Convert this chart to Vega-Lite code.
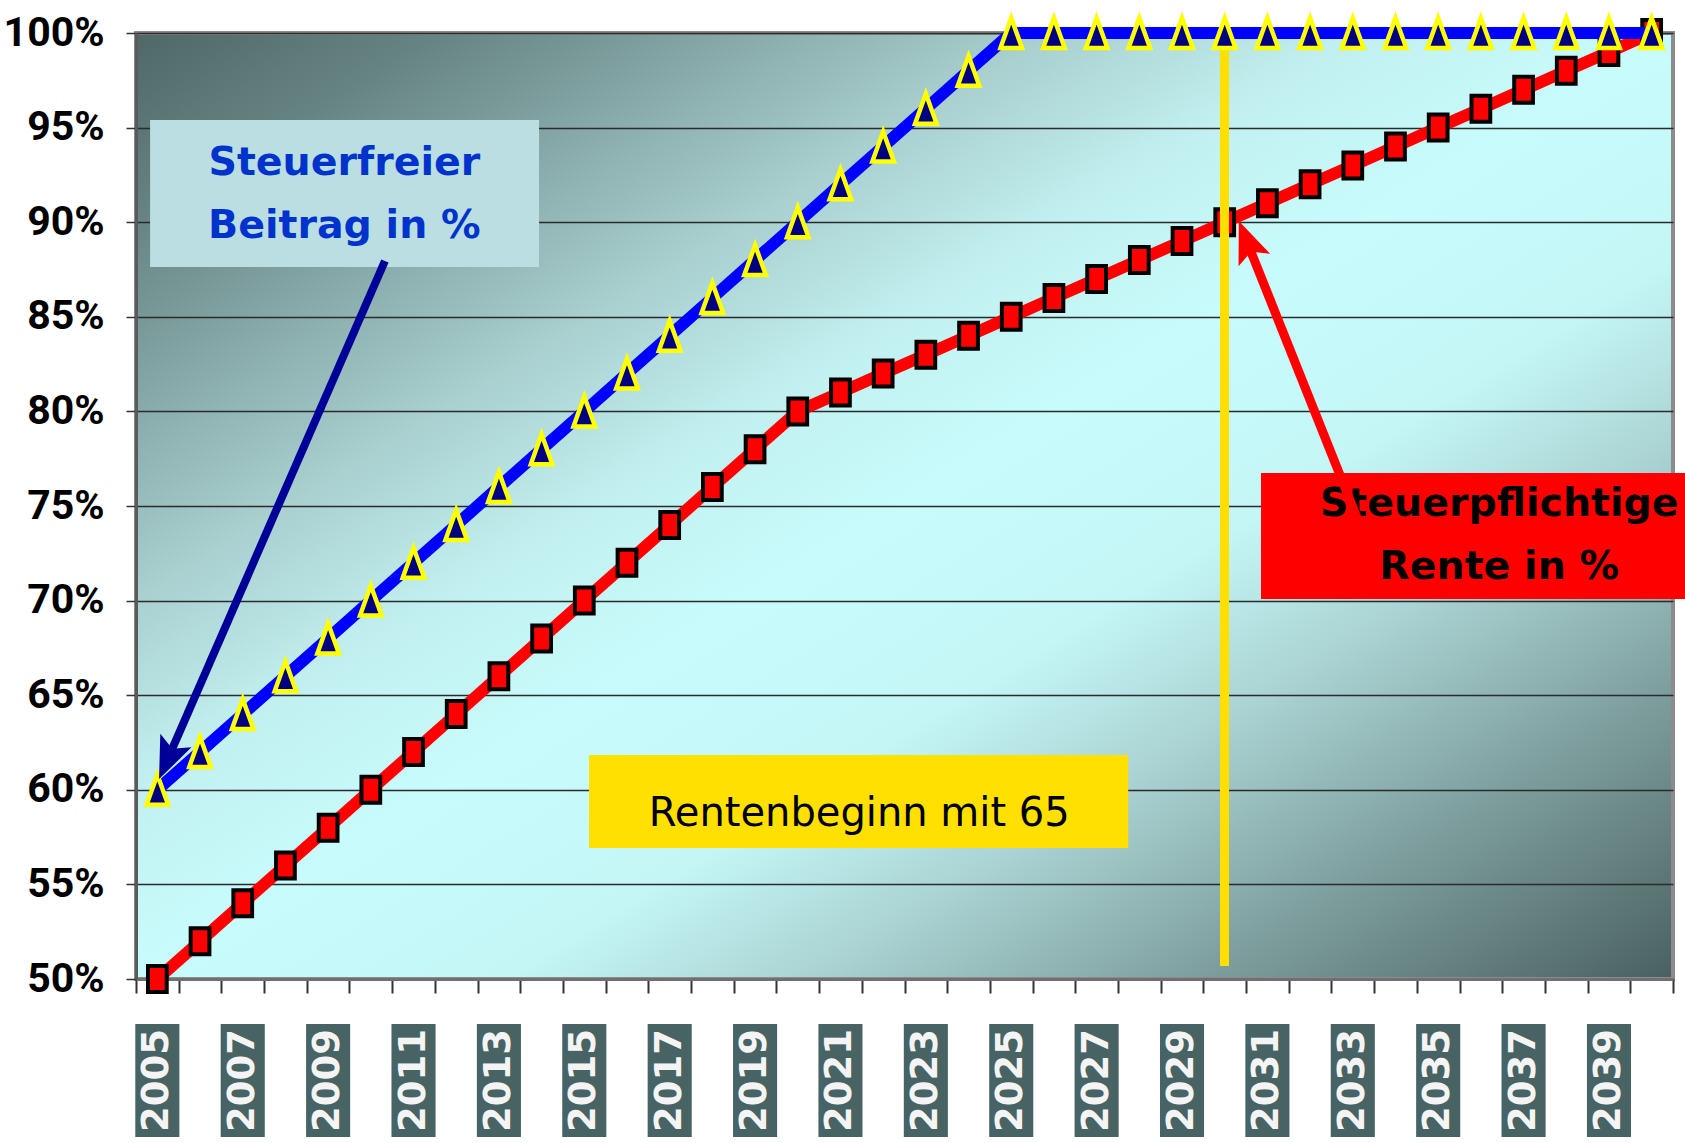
{
  "$schema": "https://vega.github.io/schema/vega-lite/v6.json",
  "padding": {"left": 1, "top": 7, "right": 0, "bottom": 0},
  "spacing": 19,
  "background": "#ffffff",
  "datasets": {
    "rente": [
      {"year": 2005, "frei": 60, "pflicht": 50},
      {"year": 2006, "frei": 62, "pflicht": 52},
      {"year": 2007, "frei": 64, "pflicht": 54},
      {"year": 2008, "frei": 66, "pflicht": 56},
      {"year": 2009, "frei": 68, "pflicht": 58},
      {"year": 2010, "frei": 70, "pflicht": 60},
      {"year": 2011, "frei": 72, "pflicht": 62},
      {"year": 2012, "frei": 74, "pflicht": 64},
      {"year": 2013, "frei": 76, "pflicht": 66},
      {"year": 2014, "frei": 78, "pflicht": 68},
      {"year": 2015, "frei": 80, "pflicht": 70},
      {"year": 2016, "frei": 82, "pflicht": 72},
      {"year": 2017, "frei": 84, "pflicht": 74},
      {"year": 2018, "frei": 86, "pflicht": 76},
      {"year": 2019, "frei": 88, "pflicht": 78},
      {"year": 2020, "frei": 90, "pflicht": 80},
      {"year": 2021, "frei": 92, "pflicht": 81},
      {"year": 2022, "frei": 94, "pflicht": 82},
      {"year": 2023, "frei": 96, "pflicht": 83},
      {"year": 2024, "frei": 98, "pflicht": 84},
      {"year": 2025, "frei": 100, "pflicht": 85},
      {"year": 2026, "frei": 100, "pflicht": 86},
      {"year": 2027, "frei": 100, "pflicht": 87},
      {"year": 2028, "frei": 100, "pflicht": 88},
      {"year": 2029, "frei": 100, "pflicht": 89},
      {"year": 2030, "frei": 100, "pflicht": 90},
      {"year": 2031, "frei": 100, "pflicht": 91},
      {"year": 2032, "frei": 100, "pflicht": 92},
      {"year": 2033, "frei": 100, "pflicht": 93},
      {"year": 2034, "frei": 100, "pflicht": 94},
      {"year": 2035, "frei": 100, "pflicht": 95},
      {"year": 2036, "frei": 100, "pflicht": 96},
      {"year": 2037, "frei": 100, "pflicht": 97},
      {"year": 2038, "frei": 100, "pflicht": 98},
      {"year": 2039, "frei": 100, "pflicht": 99},
      {"year": 2040, "frei": 100, "pflicht": 100}
    ]
  },
  "vconcat": [
    {
      "width": 1537,
      "height": 946,
      "view": {
        "fill": {
          "gradient": "linear", "x1": 0, "y1": 0, "x2": 1, "y2": 1,
          "stops": [
            {"offset": 0, "color": "#4f6767"},
            {"offset": 0.1, "color": "#668483"},
            {"offset": 0.2, "color": "#88aaaa"},
            {"offset": 0.3, "color": "#aad0d0"},
            {"offset": 0.4, "color": "#c2f0f0"},
            {"offset": 0.5, "color": "#c8fcfc"},
            {"offset": 0.62, "color": "#c4f6f6"},
            {"offset": 0.72, "color": "#aad2d2"},
            {"offset": 0.85, "color": "#7c9c9c"},
            {"offset": 1, "color": "#4a6060"}
          ]
        },
        "stroke": "#8c8c8c",
        "strokeWidth": 4
      },
      "data": {"name": "rente"},
      "layer": [
        {
          "mark": {"type": "line", "color": "#ff0000", "strokeWidth": 12},
          "encoding": {
            "x": {
              "field": "year", "type": "quantitative", "title": null,
              "scale": {"domain": [2004.5, 2040.5], "nice": false, "zero": false},
              "axis": {
                "values": [2004.5, 2005.5, 2006.5, 2007.5, 2008.5, 2009.5, 2010.5, 2011.5, 2012.5, 2013.5, 2014.5, 2015.5, 2016.5, 2017.5, 2018.5, 2019.5, 2020.5, 2021.5, 2022.5, 2023.5, 2024.5, 2025.5, 2026.5, 2027.5, 2028.5, 2029.5, 2030.5, 2031.5, 2032.5, 2033.5, 2034.5, 2035.5, 2036.5, 2037.5, 2038.5, 2039.5, 2040.5],
                "labels": false, "grid": false, "tickSize": 14, "tickColor": "#333333", "tickWidth": 2,
                "domainColor": "#707070", "domainWidth": 3, "title": null
              }
            },
            "y": {
              "field": "pflicht", "type": "quantitative", "title": null,
              "scale": {"domain": [50, 100], "nice": false, "zero": false},
              "axis": {
                "values": [50, 55, 60, 65, 70, 75, 80, 85, 90, 95, 100],
                "labelExpr": "datum.value + '%'",
                "grid": true, "gridColor": "#2b2b2b", "gridWidth": 1.3,
                "domainColor": "#5a5a5a", "domainWidth": 3,
                "tickColor": "#333333", "tickWidth": 1.5, "tickSize": 10,
                "labelFont": "Roboto",
                "labelFontWeight": "bold", "labelFontSize": 41, "labelColor": "#000000",
                "labelPadding": 22, "title": null
              }
            }
          }
        },
        {
          "mark": {"type": "point", "shape": "M-0.72,-1H0.72V1H-0.72Z", "size": 676, "filled": true, "fill": "#ff0000", "stroke": "#000000", "strokeWidth": 4, "opacity": 1},
          "encoding": {
            "x": {"field": "year", "type": "quantitative", "title": null},
            "y": {"field": "pflicht", "type": "quantitative", "title": null}
          }
        },
        {
          "mark": {"type": "rule", "color": "#ffdf00", "strokeWidth": 8},
          "encoding": {
            "x": {"datum": 2030, "type": "quantitative", "title": null},
            "y": {"datum": 99.2, "type": "quantitative", "title": null},
            "y2": {"datum": 50.7}
          }
        },
        {
          "mark": {"type": "line", "color": "#0000ff", "strokeWidth": 12},
          "encoding": {
            "x": {"field": "year", "type": "quantitative", "title": null},
            "y": {"field": "frei", "type": "quantitative", "title": null}
          }
        },
        {
          "mark": {"type": "point", "shape": "M0,-1L0.72,1L-0.72,1Z", "size": 900, "filled": true, "fill": "#000080", "stroke": "#ffff00", "strokeWidth": 4.5, "opacity": 1},
          "encoding": {
            "x": {"field": "year", "type": "quantitative", "title": null},
            "y": {"field": "frei", "type": "quantitative", "title": null}
          }
        },
        {
          "data": {"values": [{}]},
          "mark": {"type": "rect", "fill": "#bbdee3"},
          "encoding": {
            "x": {"datum": 2004.83, "type": "quantitative", "title": null},
            "x2": {"datum": 2013.94},
            "y": {"datum": 95.4, "type": "quantitative", "title": null},
            "y2": {"datum": 87.63}
          }
        },
        {
          "data": {"values": [{}]},
          "mark": {"type": "text", "align": "center", "baseline": "alphabetic", "font": "DejaVu Sans", "fontWeight": "bold", "fontSize": 39.5, "lineHeight": 63, "fill": "#0033cc"},
          "encoding": {
            "x": {"datum": 2009.38, "type": "quantitative", "title": null},
            "y": {"datum": 92.49, "type": "quantitative", "title": null},
            "text": {"value": ["Steuerfreier", "Beitrag in %"]}
          }
        },
        {
          "data": {"values": [{}]},
          "mark": {"type": "rule", "color": "#000099", "strokeWidth": 8},
          "encoding": {
            "x": {"datum": 2010.33, "type": "quantitative", "title": null},
            "y": {"datum": 87.95, "type": "quantitative", "title": null},
            "x2": {"datum": 2005.32},
            "y2": {"datum": 62.02}
          }
        },
        {
          "data": {"values": [{}]},
          "mark": {"type": "point", "shape": "M0,0L1.7,4.2L0,3.3L-1.7,4.2Z", "size": 400, "filled": true, "fill": "#000099", "strokeWidth": 0, "opacity": 1, "angle": 203.6},
          "encoding": {
            "x": {"datum": 2005.04, "type": "quantitative", "title": null},
            "y": {"datum": 60.57, "type": "quantitative", "title": null}
          }
        },
        {
          "data": {"values": [{}]},
          "mark": {"type": "rect", "fill": "#ff0000"},
          "encoding": {
            "x": {"datum": 2030.85, "type": "quantitative", "title": null},
            "x2": {"datum": 2040.85},
            "y": {"datum": 76.74, "type": "quantitative", "title": null},
            "y2": {"datum": 70.08}
          }
        },
        {
          "data": {"values": [{}]},
          "mark": {"type": "text", "align": "center", "baseline": "alphabetic", "font": "DejaVu Sans", "fontWeight": "bold", "fontSize": 39.5, "lineHeight": 63, "fill": "#000000"},
          "encoding": {
            "x": {"datum": 2036.43, "type": "quantitative", "title": null},
            "y": {"datum": 74.47, "type": "quantitative", "title": null},
            "text": {"value": ["Steuerpflichtige", "Rente in %"]}
          }
        },
        {
          "data": {"values": [{}]},
          "mark": {"type": "rule", "color": "#ff0000", "strokeWidth": 9},
          "encoding": {
            "x": {"datum": 2033.1, "type": "quantitative", "title": null},
            "y": {"datum": 74.37, "type": "quantitative", "title": null},
            "x2": {"datum": 2030.59},
            "y2": {"datum": 88.58}
          }
        },
        {
          "data": {"values": [{}]},
          "mark": {"type": "point", "shape": "M0,0L1.7,4.2L0,3.3L-1.7,4.2Z", "size": 400, "filled": true, "fill": "#ff0000", "strokeWidth": 0, "opacity": 1, "angle": 338.3},
          "encoding": {
            "x": {"datum": 2030.33, "type": "quantitative", "title": null},
            "y": {"datum": 90.06, "type": "quantitative", "title": null}
          }
        },
        {
          "data": {"values": [{}]},
          "mark": {"type": "rect", "fill": "#ffe000"},
          "encoding": {
            "x": {"datum": 2015.11, "type": "quantitative", "title": null},
            "x2": {"datum": 2027.74},
            "y": {"datum": 61.84, "type": "quantitative", "title": null},
            "y2": {"datum": 56.92}
          }
        },
        {
          "data": {"values": [{}]},
          "mark": {"type": "text", "align": "center", "baseline": "alphabetic", "font": "DejaVu Sans", "fontWeight": "normal", "fontSize": 40, "fill": "#000000"},
          "encoding": {
            "x": {"datum": 2021.44, "type": "quantitative", "title": null},
            "y": {"datum": 58.09, "type": "quantitative", "title": null},
            "text": {"value": "Rentenbeginn mit 65"}
          }
        }
      ]
    },
    {
      "width": 1537,
      "height": 113,
      "view": {"stroke": null},
      "data": {"name": "rente"},
      "transform": [{"filter": "datum.year % 2 == 1"}],
      "layer": [
        {
          "mark": {"type": "point", "shape": "M-0.39,-1H0.39V1H-0.39Z", "size": 12769, "filled": true, "fill": "#476363", "strokeWidth": 0, "opacity": 1},
          "encoding": {
            "x": {"field": "year", "type": "quantitative", "title": null, "axis": null, "scale": {"domain": [2004.5, 2040.5], "nice": false, "zero": false}}
          }
        },
        {
          "mark": {"type": "text", "angle": 270, "align": "center", "baseline": "middle", "font": "DejaVu Sans", "fontWeight": "bold", "fontSize": 37, "fill": "#f4f4f4"},
          "encoding": {
            "x": {"field": "year", "type": "quantitative", "title": null, "axis": null},
            "text": {"field": "year", "type": "nominal"}
          }
        }
      ]
    }
  ],
  "config": {
    "view": {"stroke": null},
    "concat": {"spacing": 19}
  }
}
